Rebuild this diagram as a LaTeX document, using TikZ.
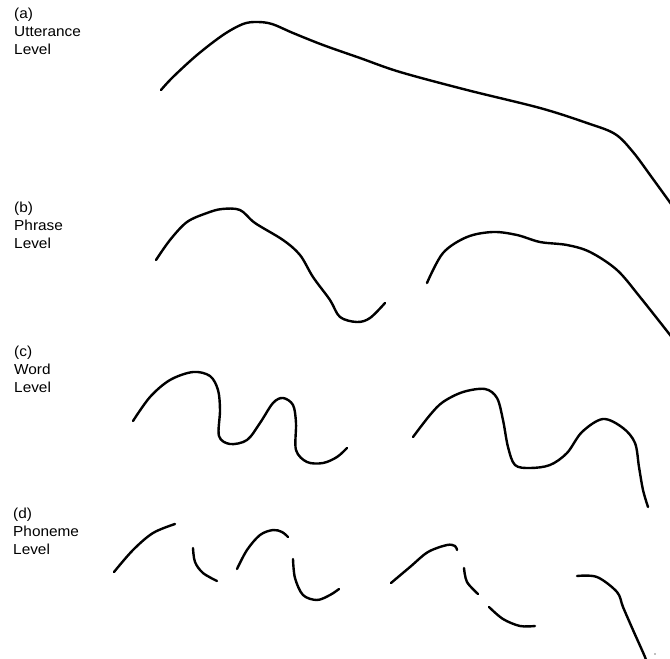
\documentclass[tikz,border=0pt]{standalone}
\usepackage{fontspec}
\setmainfont{Liberation Sans}
\begin{document}
\begin{tikzpicture}[x=1pt,y=-1pt,
  contour/.style={line width=2.4pt,line cap=round,line join=round},
  lbl/.style={anchor=south west,inner sep=0pt,align=left,font=\fontsize{14.5}{18}\selectfont,xscale=1.06}]
\useasboundingbox[fill=white] (0,0) rectangle (670,659);
\clip (0,0) rectangle (670,659);
% labels
\node[lbl] (la) at (14,55) {(a)\\Utterance\\Level};
\node[lbl] (lb) at (14,249) {(b)\\Phrase\\Level};
\node[lbl] (lc) at (14,393) {(c)\\Word\\Level};
\node[lbl] (ld) at (13,555) {(d)\\Phoneme\\Level};
% (a) utterance
\draw[contour] plot[smooth,tension=0.55] coordinates {(161,90) (173,77) (197,55) (223,35) (243,24) (257,22) (272,24) (293,33) (323,45) (360,58) (400,72) (467,90) (540,108) (587,123) (615,134) (633,152) (653,179) (674,208)};
% (b) phrase
\draw[contour] plot[smooth,tension=0.55] coordinates {(156,260) (170,240) (187,222) (207,213) (222,209) (240,210) (255,223) (283,240) (300,255) (313,277) (330,300) (340,317) (357,322) (370,318) (385,303)};
\draw[contour] plot[smooth,tension=0.55] coordinates {(427,283) (443,253) (467,237) (493,232) (517,235) (540,242) (567,245) (590,252) (617,270) (640,297) (674,340)};
% (c) word
\draw[contour] plot[smooth,tension=0.55] coordinates {(133,421) (150,397) (170,380) (193,372) (210,376) (218,390) (220,410) (219,436) (230,444) (247,440) (260,423) (273,403) (283,398) (293,405) (296,423) (296,450) (307,462) (323,463) (337,457) (347,448)};
\draw[contour] plot[smooth,tension=0.55] coordinates {(413,437) (430,415) (443,402) (463,392) (485,389) (497,398) (503,420) (508,447) (515,465) (530,468) (550,465) (567,453) (582,432) (603,419) (623,428) (635,443) (639,467) (643,490) (648,507)};
% (d) phoneme
\draw[contour] plot[smooth,tension=0.55] coordinates {(114,572) (133,550) (153,533) (175,524)};
\draw[contour] plot[smooth,tension=0.55] coordinates {(193,548) (195,562) (203,573) (217,581)};
\draw[contour] plot[smooth,tension=0.55] coordinates {(237,569) (247,550) (260,535) (273,530) (282,532) (288,537)};
\draw[contour] plot[smooth,tension=0.55] coordinates {(293,559) (295,578) (303,595) (317,600) (330,595) (339,589)};
\draw[contour] plot[smooth,tension=0.55] coordinates {(391,583) (410,567) (428,552) (447,545) (455,546) (457,550)};
\draw[contour] plot[smooth,tension=0.55] coordinates {(464,568) (467,582) (478,594)};
\draw[contour] plot[smooth,tension=0.55] coordinates {(489,607) (503,619) (520,626) (535,626)};
\draw[contour] plot[smooth,tension=0.55] coordinates {(577,576) (597,577) (617,592) (623,607) (633,630) (645,657) (647,664)};
\fill[gray] (655,654) circle (0.8pt);
\end{tikzpicture}
\end{document}
